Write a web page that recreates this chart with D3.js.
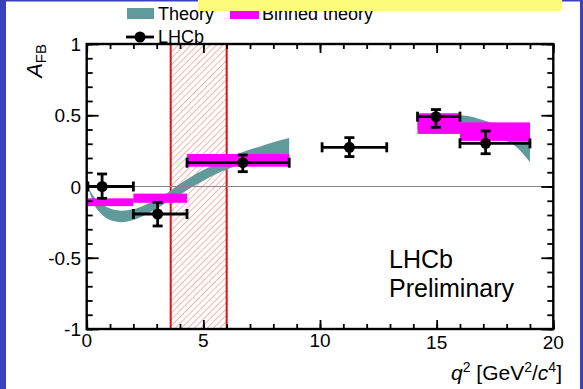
<!DOCTYPE html>
<html><head><meta charset="utf-8">
<script src="https://cdn.jsdelivr.net/npm/d3@7"></script>
<style>body{margin:0;background:#fff;} svg{display:block;font-family:"Liberation Sans",Arial,Helvetica,sans-serif;}</style>
</head><body><svg id="c" width="583" height="389"></svg>
<script>
// ---- data ----
const xMajor = [0, 5, 10, 15, 20];
const xMinor = d3.range(0, 21, 1);
const yMajor = [-1, -0.5, 0, 0.5, 1];
const yMajorLabels = ["-1", "-0.5", "0", "0.5", "1"];
const yMinor = d3.range(-10, 11).map(d => d / 10);

// Theory band, low q2 region
const bandLowQ  = [0.05, 0.3, 0.6, 1.0, 1.5, 2.0, 2.5, 3.0, 3.5, 4.0, 4.5, 5.0, 5.5, 6.0, 6.5, 7.0, 7.5, 8.0, 8.68];
const bandLowUp = [0.0, -0.07, -0.12, -0.155, -0.17, -0.16, -0.13, -0.09, -0.04, 0.02, 0.07, 0.115, 0.155, 0.195, 0.23, 0.26, 0.285, 0.31, 0.34];
const bandLowDn = [0.0, -0.12, -0.19, -0.235, -0.25, -0.235, -0.2, -0.155, -0.105, -0.055, -0.005, 0.04, 0.085, 0.12, 0.15, 0.17, 0.185, 0.195, 0.2];
// Theory band, high q2 region
const bandHighQ  = [14.18, 15.0, 16.0, 16.5, 17.0, 17.5, 18.0, 18.5, 19.0];
const bandHighUp = [0.47, 0.50, 0.50, 0.49, 0.465, 0.44, 0.42, 0.39, 0.34];
const bandHighDn = [0.40, 0.42, 0.40, 0.39, 0.37, 0.35, 0.32, 0.265, 0.17];

// Binned theory
const binLo  = [0.05, 2.0, 4.3, 14.18, 16.0];
const binHi  = [2.0, 4.3, 8.68, 16.0, 19.0];
const binTop = [-0.083, -0.05, 0.228, 0.514, 0.45];
const binBot = [-0.138, -0.114, 0.139, 0.369, 0.32];

// LHCb data
const dataQ   = [0.66, 3.04, 6.69, 11.26, 14.97, 17.1];
const dataQlo = [0.05, 2.0, 4.3, 10.09, 14.18, 16.0];
const dataQhi = [2.0, 4.3, 8.68, 12.86, 16.0, 19.0];
const dataA   = [0.0, -0.193, 0.167, 0.275, 0.49, 0.303];
const dataAhi = [0.088, -0.111, 0.221, 0.343, 0.54, 0.39];
const dataAlo = [-0.083, -0.277, 0.104, 0.21, 0.415, 0.23];

const vetoLo = 3.6, vetoHi = 6.0;

// ---- drawing ----
const svg = d3.select("#c");
const W = 583, H = 389;
const x = d3.scaleLinear().domain([0, 20]).range([86.7, 553.3]);
const y = d3.scaleLinear().domain([-1, 1]).range([329, 44]);

// background frame
svg.append("rect").attr("width", W).attr("height", H).attr("fill", "#3b40bb");
svg.append("rect").attr("x", 6).attr("y", 1.5).attr("width", 574).attr("height", H).attr("fill", "#fff");

const defs = svg.append("defs");
const pat = defs.append("pattern").attr("id", "hatch").attr("patternUnits", "userSpaceOnUse")
  .attr("width", 4.5).attr("height", 4.5).attr("patternTransform", "rotate(45)");
pat.append("line").attr("x1", 0).attr("y1", 0).attr("x2", 0).attr("y2", 4.5)
  .attr("stroke", "#ec6a6a").attr("stroke-width", 1);

// veto band
svg.append("rect").attr("x", x(vetoLo)).attr("y", y(1)).attr("width", x(vetoHi) - x(vetoLo))
  .attr("height", y(-1) - y(1)).attr("fill", "url(#hatch)");
[vetoLo, vetoHi].forEach(v => svg.append("line").attr("x1", x(v)).attr("x2", x(v))
  .attr("y1", y(1)).attr("y2", y(-1)).attr("stroke", "#e01010").attr("stroke-width", 2));

// theory band
const area = d3.area().x(d => x(d[0])).y0(d => y(d[2])).y1(d => y(d[1])).curve(d3.curveMonotoneX);
const lowPts = bandLowQ.map((q, i) => [q, bandLowUp[i], bandLowDn[i]]);
const highPts = bandHighQ.map((q, i) => [q, bandHighUp[i], bandHighDn[i]]);
[lowPts, highPts].forEach(p => svg.append("path").attr("d", area(p)).attr("fill", "#609a9a"));

// zero line
svg.append("line").attr("x1", x(0)).attr("x2", x(20)).attr("y1", y(0)).attr("y2", y(0))
  .attr("stroke", "#888").attr("stroke-width", 1.2);

// binned theory
svg.selectAll("rect.bin").data(binLo).enter().append("rect").attr("class", "bin")
  .attr("x", (d, i) => x(binLo[i])).attr("width", (d, i) => x(binHi[i]) - x(binLo[i]))
  .attr("y", (d, i) => y(binTop[i])).attr("height", (d, i) => y(binBot[i]) - y(binTop[i]))
  .attr("fill", "#ff00ff");

// axes (ticks)
function ax(gen, tr, size) {
  const g = svg.append("g").attr("transform", tr).call(gen.tickSize(size).tickSizeOuter(0).tickFormat(""));
  g.select(".domain").remove();
  g.selectAll(".tick line").attr("stroke", "#000").attr("stroke-width", 1.8);
}
ax(d3.axisBottom(x).tickValues(xMinor), `translate(0,${y(-1)})`, -5);
ax(d3.axisBottom(x).tickValues(xMajor), `translate(0,${y(-1)})`, -9);
ax(d3.axisTop(x).tickValues(xMinor), `translate(0,${y(1)})`, -5);
ax(d3.axisTop(x).tickValues(xMajor), `translate(0,${y(1)})`, -9);
ax(d3.axisLeft(y).tickValues(yMinor), `translate(${x(0)},0)`, -6);
ax(d3.axisLeft(y).tickValues(yMajor), `translate(${x(0)},0)`, -12);
ax(d3.axisRight(y).tickValues(yMinor), `translate(${x(20)},0)`, -6);
ax(d3.axisRight(y).tickValues(yMajor), `translate(${x(20)},0)`, -12);

// frame
svg.append("rect").attr("x", x(0)).attr("y", y(1)).attr("width", x(20) - x(0)).attr("height", y(-1) - y(1))
  .attr("fill", "none").attr("stroke", "#000").attr("stroke-width", 2.4);

// tick labels
svg.selectAll("text.xl").data(xMajor).enter().append("text").attr("class", "xl")
  .attr("x", d => x(d)).attr("y", d => d >= 15 ? 349 : 347).attr("text-anchor", "middle").attr("font-size", 19).text(d => d);
svg.selectAll("text.yl").data(yMajor).enter().append("text").attr("class", "yl")
  .attr("x", 81).attr("y", d => y(d) + 7).attr("text-anchor", "end").attr("font-size", 19)
  .text((d, i) => yMajorLabels[i]);

// data points
const pts = svg.append("g");
dataQ.forEach((q, i) => {
  const cx = x(q), cy = y(dataA[i]);
  const l = (x1, y1, x2, y2) => pts.append("line").attr("x1", x1).attr("y1", y1).attr("x2", x2).attr("y2", y2)
    .attr("stroke", "#000").attr("stroke-width", 2.8);
  l(x(dataQlo[i]), cy, x(dataQhi[i]), cy);
  l(cx, y(dataAhi[i]), cx, y(dataAlo[i]));
  l(x(dataQlo[i]), cy - 5, x(dataQlo[i]), cy + 5);
  l(x(dataQhi[i]), cy - 5, x(dataQhi[i]), cy + 5);
  l(cx - 5, y(dataAhi[i]), cx + 5, y(dataAhi[i]));
  l(cx - 5, y(dataAlo[i]), cx + 5, y(dataAlo[i]));
  pts.append("circle").attr("cx", cx).attr("cy", cy).attr("r", 5.5).attr("fill", "#000");
});

// axis titles
const yt = svg.append("text").attr("transform", "translate(42,44) rotate(-90)").attr("text-anchor", "end");
yt.append("tspan").attr("font-size", 22).attr("font-style", "italic").text("A");
yt.append("tspan").attr("font-size", 15).attr("dy", 4).text("FB");

const xt = svg.append("text").attr("x", 562).attr("y", 380).attr("text-anchor", "end").attr("font-size", 21);
xt.append("tspan").attr("font-style", "italic").text("q");
xt.append("tspan").attr("font-size", 14).attr("dy", -8).text("2");
xt.append("tspan").attr("dy", 8).text(" [GeV");
xt.append("tspan").attr("font-size", 14).attr("dy", -8).text("2");
xt.append("tspan").attr("dy", 8).text("/");
xt.append("tspan").attr("font-style", "italic").text("c");
xt.append("tspan").attr("font-size", 14).attr("dy", -8).text("4");
xt.append("tspan").attr("dy", 8).text("]");

// LHCb Preliminary label
svg.append("text").attr("x", 389).attr("y", 268).attr("font-size", 25).text("LHCb");
svg.append("text").attr("x", 389).attr("y", 297).attr("font-size", 25).text("Preliminary");

// legend
svg.append("rect").attr("x", 127).attr("y", 8).attr("width", 27).attr("height", 11).attr("fill", "#609a9a");
svg.append("text").attr("x", 158).attr("y", 20).attr("font-size", 18).text("Theory");
svg.append("rect").attr("x", 230).attr("y", 8).attr("width", 29).attr("height", 11).attr("fill", "#ff00ff");
svg.append("text").attr("x", 262).attr("y", 20).attr("font-size", 18).text("Binned theory");
svg.append("line").attr("x1", 126).attr("x2", 154).attr("y1", 37).attr("y2", 37).attr("stroke", "#000").attr("stroke-width", 2.8);
svg.append("circle").attr("cx", 140).attr("cy", 37).attr("r", 5.5).attr("fill", "#000");
svg.append("text").attr("x", 158).attr("y", 43).attr("font-size", 18).text("LHCb");

// yellow overlay box
svg.append("rect").attr("x", 198).attr("y", 0).attr("width", 364).attr("height", 11).attr("fill", "#fdfb7c");
</script></body></html>
